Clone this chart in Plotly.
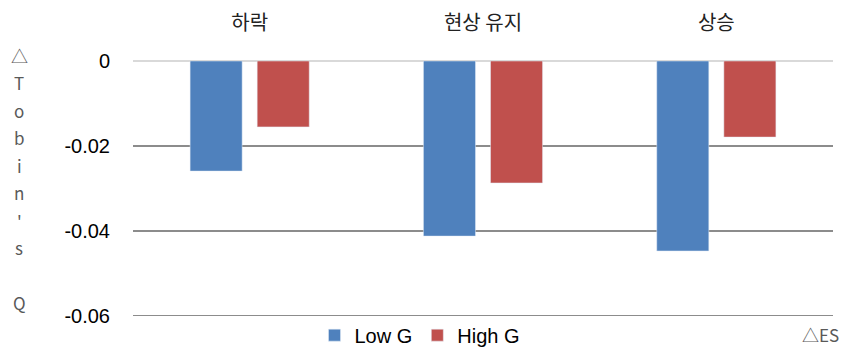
import plotly.graph_objects as go

categories = ["하락", "현상 유지", "상승"]
low_g = [-0.0259, -0.0412, -0.0447]
high_g = [-0.0155, -0.0287, -0.0179]
y_ticks = [0, -0.02, -0.04, -0.06]
y_tick_text = ["0", "-0.02", "-0.04", "-0.06"]
y_title_chars = ["△", "T", "o", "b", "i", "n", "'", "s", " ", "Q"]
x_title = "△ES"

W, H = 843, 350
ml, mr, mt, mb = 133, 10, 61, 34
pw, ph = W - ml - mr, H - mt - mb

fig = go.Figure()
fig.add_trace(go.Bar(x=categories, y=low_g, name="Low G", marker_color="#4F81BD"))
fig.add_trace(go.Bar(x=categories, y=high_g, name="High G", marker_color="#C0504D"))

fig.update_layout(
    width=W, height=H,
    margin=dict(l=ml, r=mr, t=mt, b=mb, pad=0, autoexpand=False),
    plot_bgcolor="white", paper_bgcolor="white",
    barmode="group", bargap=0.425, bargroupgap=0.224,
    showlegend=True,
    legend=dict(orientation="h", x=(420 - ml) / pw, xanchor="center", y=-0.075, yanchor="middle",
                font=dict(family="Liberation Sans, Arial", size=20, color="black"),
                itemwidth=30, traceorder="normal", tracegroupgap=0),
    xaxis=dict(side="top", showgrid=False, showline=False, ticks="",
               tickfont=dict(family="Noto Sans CJK KR", size=20, color="#222222"),
               ticklabelstandoff=26),
    yaxis=dict(range=[-0.06, 0], tickvals=y_ticks, ticktext=y_tick_text,
               showgrid=True, gridcolor="#8c8c8c", gridwidth=2,
               zeroline=True, zerolinecolor="#d9d9d9", zerolinewidth=2,
               showline=False, ticks="",
               tickfont=dict(family="Liberation Sans, Arial", size=20, color="black"),
               ticklabelstandoff=22),
)

# bottom gridline at the lowest tick (drawn explicitly since it sits on the plot edge)
fig.add_shape(type="line", xref="paper", yref="y", x0=0, x1=1,
              y0=y_ticks[-1], y1=y_ticks[-1], layer="below",
              line=dict(color="#8c8c8c", width=2))

# stacked vertical y-axis title, one character per line
for i, ch in enumerate(y_title_chars):
    if ch.strip() == "":
        continue
    ypix = 55 + 27.5 * i
    fig.add_annotation(text=ch, xref="paper", yref="paper",
                       x=(19 - ml) / pw, y=1 - (ypix - mt) / ph,
                       xanchor="center", yanchor="middle", showarrow=False,
                       font=dict(family="Noto Sans CJK KR", size=17, color="#595959"))

fig.add_annotation(text=x_title, xref="paper", yref="paper",
                   x=(841 - ml) / pw, y=1 - (334 - mt) / ph,
                   xanchor="right", yanchor="middle", showarrow=False,
                   font=dict(family="Noto Sans CJK KR", size=17, color="#595959"))

fig.write_html("out.html")
